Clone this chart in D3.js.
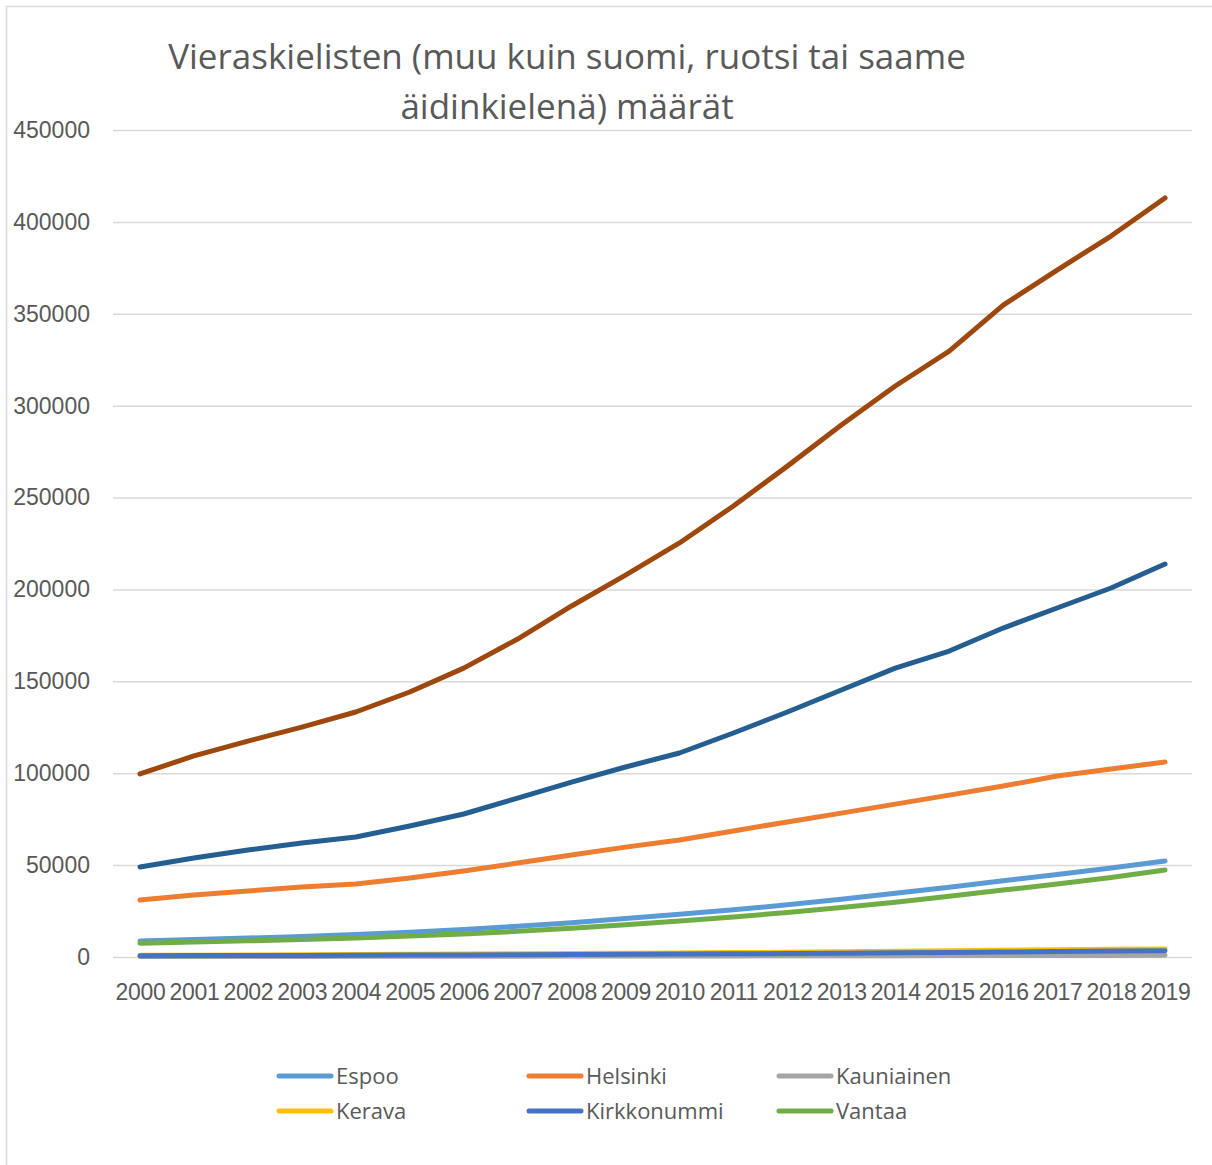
<!DOCTYPE html>
<html>
<head>
<meta charset="utf-8">
<script src="https://cdn.jsdelivr.net/npm/d3@7"></script>
<style>
  body { margin: 0; background: #fff; }
  svg { font-family: "Open Sans", "Noto Sans", sans-serif; }
</style>
</head>
<body>
<div id="chart"></div>
<script>
const years = d3.range(2000, 2020).map(String);
const yTicks = [0, 50000, 100000, 150000, 200000, 250000, 300000, 350000, 400000, 450000];

const espoo =       [8700, 9500, 10300, 11200, 12200, 13500, 15000, 16700, 18700, 20900, 23200, 25700, 28400, 31400, 34700, 38000, 41500, 44900, 48400, 52200];
const helsinki =    [31000, 33700, 35900, 38100, 39700, 43000, 46800, 51100, 55500, 59800, 63700, 68600, 73500, 78300, 83200, 88100, 93000, 98500, 102300, 106100];
const kauniainen =  [250, 280, 300, 330, 350, 380, 410, 440, 480, 520, 560, 600, 640, 680, 720, 760, 800, 840, 870, 900];
const kerava =      [900, 1000, 1100, 1200, 1300, 1450, 1600, 1750, 1900, 2050, 2200, 2400, 2600, 2850, 3100, 3400, 3700, 3950, 4200, 4400];
const kirkkonummi = [700, 760, 820, 880, 950, 1030, 1120, 1220, 1330, 1450, 1600, 1750, 1900, 2050, 2250, 2450, 2700, 2950, 3200, 3400];
const vantaa =      [7500, 8100, 8800, 9500, 10300, 11400, 12500, 14000, 15700, 17600, 19600, 21800, 24200, 26900, 29800, 33000, 36400, 39700, 43300, 47300];
const sarja7 =      [49000, 53900, 58200, 62000, 65300, 71300, 77800, 86500, 95200, 103400, 111000, 121900, 133300, 145300, 157200, 166500, 179000, 189900, 200800, 213800];
const sarja8 =      [99600, 109400, 117500, 125100, 133300, 144200, 157200, 173000, 191000, 207800, 225300, 245400, 267100, 289500, 310700, 329700, 354700, 373800, 392300, 413000];

const series = [
  { name: "Espoo", values: espoo, color: "#5B9BD5", legend: true },
  { name: "Helsinki", values: helsinki, color: "#ED7D31", legend: true },
  { name: "Kauniainen", values: kauniainen, color: "#A5A5A5", legend: true },
  { name: "Kerava", values: kerava, color: "#FFC000", legend: true },
  { name: "Kirkkonummi", values: kirkkonummi, color: "#4472C4", legend: true },
  { name: "Vantaa", values: vantaa, color: "#70AD47", legend: true },
  { name: "Sarja7", values: sarja7, color: "#255E91", legend: false },
  { name: "Sarja8", values: sarja8, color: "#9E480E", legend: false }
];

const W = 1212, H = 1165;
const plotLeft = 113, plotRight = 1192, plotTop = 130, plotBottom = 957;
const textColor = "#595959";

const svg = d3.select("#chart").append("svg")
  .attr("width", W).attr("height", H);

// frame (only top and left edges visible)
svg.append("path")
  .attr("d", `M6.5,${H} V6.5 H${W}`)
  .attr("fill", "none")
  .attr("stroke", "#d9d9d9")
  .attr("stroke-width", 1.5);

const x = d3.scalePoint().domain(years).range([plotLeft, plotRight]).padding(0.5);
const y = d3.scaleLinear().domain([0, 450000]).range([plotBottom, plotTop]);

// gridlines + y labels
const yAxis = svg.append("g")
  .attr("transform", `translate(${plotLeft},0)`)
  .call(d3.axisLeft(y).tickValues(yTicks).tickSize(-(plotRight - plotLeft)).tickFormat(d3.format("d")).tickPadding(23));
yAxis.select(".domain").remove();
yAxis.selectAll(".tick line").attr("stroke", "#d9d9d9").attr("stroke-width", 1.5);
yAxis.selectAll(".tick text")
  .attr("fill", textColor)
  .style("font-size", "23px")
  .attr("font-family", null);

// x labels
const xAxis = svg.append("g")
  .attr("transform", `translate(0,${plotBottom})`)
  .call(d3.axisBottom(x).tickSize(0).tickPadding(27));
xAxis.select(".domain").remove();
xAxis.selectAll(".tick text")
  .attr("fill", textColor)
  .style("font-size", "23px")
  .attr("letter-spacing", "-0.3px")
  .attr("font-family", null);

// lines
const line = d3.line()
  .x((d, i) => x(years[i]))
  .y(d => y(d));

svg.append("g").selectAll("path")
  .data(series)
  .join("path")
  .attr("d", d => line(d.values))
  .attr("fill", "none")
  .attr("stroke", d => d.color)
  .attr("stroke-width", 5)
  .attr("stroke-linecap", "round")
  .attr("stroke-linejoin", "round");

// title
const title = svg.append("text")
  .attr("text-anchor", "middle")
  .attr("fill", textColor)
  .style("font-size", "35px");
title.append("tspan").attr("x", 567).attr("y", 69).text("Vieraskielisten (muu kuin suomi, ruotsi tai saame");
title.append("tspan").attr("x", 567).attr("y", 119).text("äidinkielenä) määrät");

// legend
const legendItems = series.filter(d => d.legend);
const lg = svg.append("g").selectAll("g")
  .data(legendItems)
  .join("g")
  .attr("transform", (d, i) => `translate(${279 + (i % 3) * 250},${1076 + Math.floor(i / 3) * 35})`);
lg.append("line")
  .attr("x1", 0).attr("x2", 52)
  .attr("stroke", d => d.color)
  .attr("stroke-width", 5)
  .attr("stroke-linecap", "round");
lg.append("text")
  .attr("x", 57)
  .attr("dy", "0.35em")
  .attr("fill", textColor)
  .style("font-size", "22px")
  .text(d => d.name);
</script>
</body>
</html>
